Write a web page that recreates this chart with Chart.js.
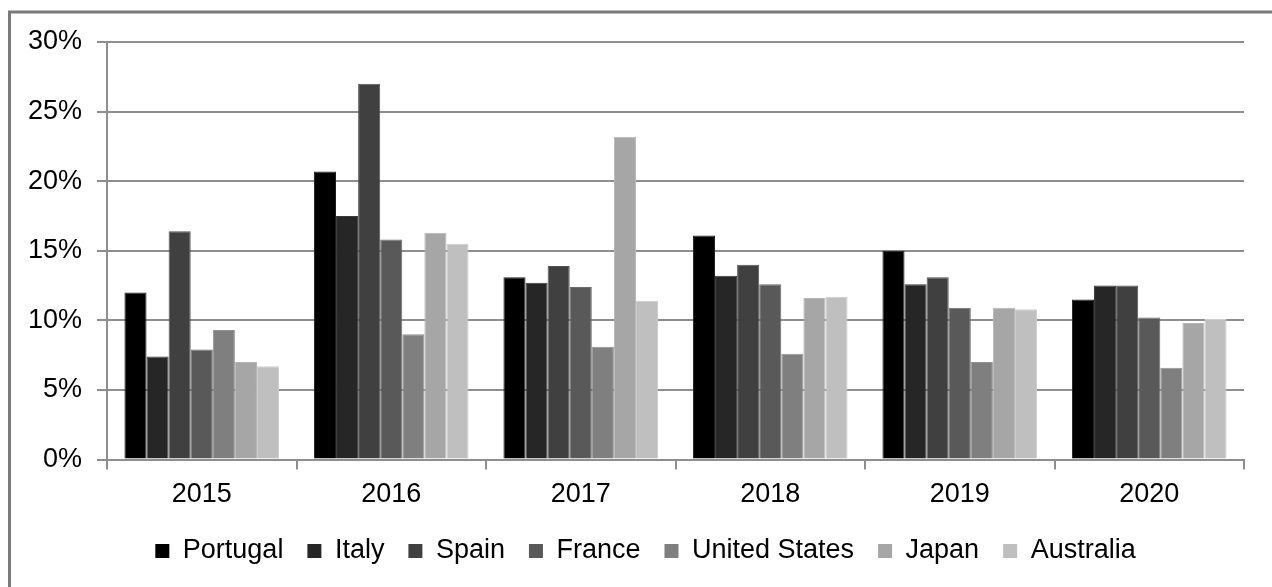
<!DOCTYPE html>
<html>
<head>
<meta charset="utf-8">
<script src="https://cdn.jsdelivr.net/npm/chart.js@4/dist/chart.umd.min.js"></script>
<style>
  html, body { margin: 0; padding: 0; background: #fff; }
  #wrap { width: 1272px; height: 587px; position: relative; }
</style>
</head>
<body>
<div id="wrap"><canvas id="chart" width="1272" height="587"></canvas></div>
<script>
// Years on the category axis
const years = ['2015', '2016', '2017', '2018', '2019', '2020'];

// Annual values per country, in percent
const portugal     = [12.0, 20.7, 13.1, 16.1, 15.0, 11.5];
const italy        = [7.4, 17.5, 12.7, 13.2, 12.6, 12.5];
const spain        = [16.4, 27.0, 13.9, 14.0, 13.1, 12.5];
const france       = [7.9, 15.8, 12.4, 12.6, 10.9, 10.2];
const unitedStates = [9.3, 9.0, 8.1, 7.6, 7.0, 6.6];
const japan        = [7.0, 16.3, 23.2, 11.6, 10.9, 9.8];
const australia    = [6.7, 15.5, 11.4, 11.7, 10.8, 10.1];

// Value axis ticks
const yTicks = [0, 5, 10, 15, 20, 25, 30];

const seriesNames  = ['Portugal', 'Italy', 'Spain', 'France', 'United States', 'Japan', 'Australia'];
const seriesValues = [portugal, italy, spain, france, unitedStates, japan, australia];
const seriesFill   = ['#000000', '#262626', '#404040', '#595959', '#7f7f7f', '#a6a6a6', '#bfbfbf'];
const seriesEdge   = ['#202020', '#3a3a3a', '#545454', '#6c6c6c', '#929292', '#b6b6b6', '#cdcdcd'];

const gridGrey = '#8e8e8e';
const fontFamily = "'Liberation Sans', Arial, sans-serif";

// Grey frame around the whole figure, and a legend nudged right of the canvas centre
const framePlugin = {
  id: 'frame',
  afterLayout(chart) {
    chart.legend.left += 47;
  },
  beforeDraw(chart) {
    const ctx = chart.ctx;
    ctx.save();
    ctx.strokeStyle = '#7a7a7a';
    ctx.lineWidth = 3;
    ctx.strokeRect(9.5, 12, 1400, 800);
    ctx.restore();
  }
};

new Chart(document.getElementById('chart'), {
  type: 'bar',
  data: {
    labels: years,
    datasets: seriesNames.map((name, i) => ({
      label: name,
      data: seriesValues[i],
      backgroundColor: seriesFill[i],
      borderColor: seriesEdge[i],
      borderWidth: 1,
      categoryPercentage: 0.816,
      barPercentage: 1.0
    }))
  },
  options: {
    responsive: false,
    animation: false,
    layout: { padding: { top: 42, left: 0, right: 28, bottom: 12.5 } },
    plugins: {
      tooltip: { enabled: false },
      legend: {
        position: 'bottom',
        labels: {
          boxWidth: 14,
          boxHeight: 14,
          padding: 24,
          color: '#000',
          font: { family: fontFamily, size: 27 },
          generateLabels(chart) {
            return chart.data.datasets.map((ds, i) => ({
              text: ds.label,
              fillStyle: seriesFill[i],
              strokeStyle: seriesFill[i],
              lineWidth: 0,
              hidden: false,
              datasetIndex: i
            }));
          }
        }
      }
    },
    scales: {
      x: {
        afterFit(scale) { scale.height = 54; },
        grid: {
          drawOnChartArea: false,
          drawTicks: true,
          tickLength: 10,
          color: gridGrey,
          lineWidth: 2
        },
        border: { color: gridGrey, width: 2 },
        ticks: {
          color: '#000',
          padding: 9.1,
          font: { family: fontFamily, size: 27 }
        }
      },
      y: {
        min: 0,
        max: 30,
        afterFit(scale) { scale.width = 107; },
        afterBuildTicks(scale) { scale.ticks = yTicks.map(v => ({ value: v })); },
        grid: {
          color: gridGrey,
          lineWidth: 2,
          tickLength: 10
        },
        border: { color: gridGrey, width: 2 },
        ticks: {
          color: '#000',
          padding: 15,
          font: { family: fontFamily, size: 27 },
          callback: v => v + '%'
        }
      }
    }
  },
  plugins: [framePlugin]
});
</script>
</body>
</html>
